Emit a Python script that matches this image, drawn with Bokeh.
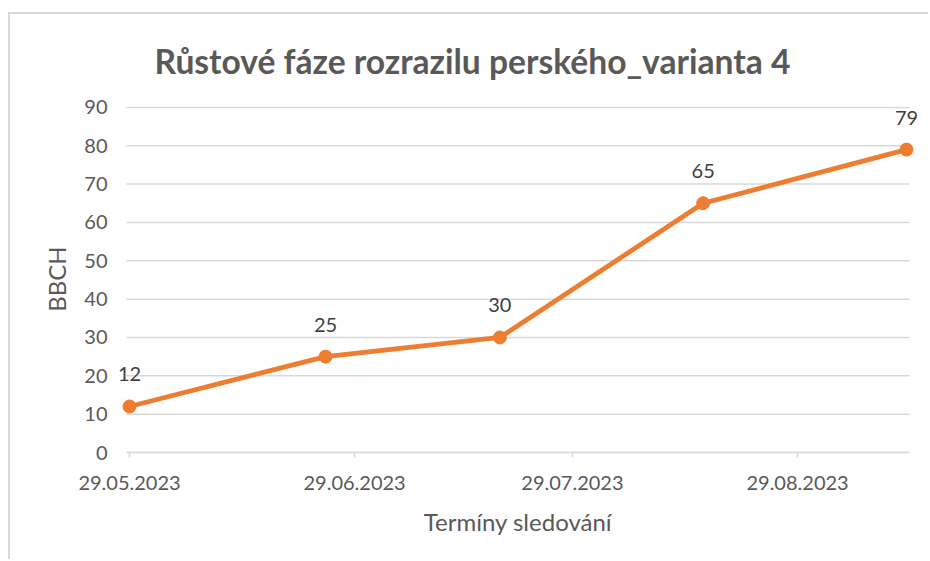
import pandas as pd
from bokeh.plotting import figure
from bokeh.models import (ColumnDataSource, Range1d, FixedTicker, DatetimeTickFormatter,
                          Title, LabelSet)
from bokeh.core.properties import value
from bokeh.embed import file_html
from bokeh.resources import INLINE

# ---- data ----
dates = ["2023-05-29", "2023-06-25", "2023-07-19", "2023-08-16", "2023-09-13"]
bbch = [12, 25, 30, 65, 79]
tick_dates = ["2023-05-29", "2023-06-29", "2023-07-29", "2023-08-29"]
y_ticks = [0, 10, 20, 30, 40, 50, 60, 70, 80, 90]
title_text = "Růstové fáze rozrazilu perského_varianta 4"
x_label = "Termíny sledování"
y_label = "BBCH"

FONT = "Lato"
ORANGE = "#ED7D31"
GRID = "#d9d9d9"
TXT = "#595959"

x = pd.to_datetime(dates)
src = ColumnDataSource(dict(x=x, y=bbch, lab=[str(v) for v in bbch]))

# axis/grid span and a little extra room so end markers are not clipped
pad = pd.Timedelta(hours=10)
extra = pd.Timedelta(hours=33)
g0, g1 = x[0] - pad, x[-1] + pad
bounds = (g0.value // 10**6, g1.value // 10**6)

p = figure(width=920, height=547, x_axis_type="datetime",
           x_range=Range1d(g0 - extra, g1 + extra),
           y_range=Range1d(0, y_ticks[-1] + 0.5),
           output_backend="svg", toolbar_location=None,
           min_border_left=106, min_border_right=11,
           min_border_top=90, min_border_bottom=109)
p.margin = (12, 0, 0, 8)
p.styles = {"border-left": "2px solid #d9d9d9", "border-top": "2px solid #d9d9d9"}
p.outline_line_color = None
p.background_fill_color = "white"
p.border_fill_color = "white"

t = Title(text=title_text, align="left", offset=38, standoff=49,
          text_font=FONT, text_font_size="33.6px", text_font_style="bold",
          text_color=TXT)
p.add_layout(t, "above")

# horizontal grid lines, limited to the axis span
p.xgrid.grid_line_color = None
p.ygrid.grid_line_color = None
gsrc = ColumnDataSource(dict(x0=[g0] * len(y_ticks), x1=[g1] * len(y_ticks), y=y_ticks))
p.segment(x0="x0", x1="x1", y0="y", y1="y", source=gsrc,
          line_color=GRID, line_width=1.5, level="underlay")

# y axis
p.yaxis.ticker = FixedTicker(ticks=y_ticks)
p.yaxis.axis_line_color = None
p.yaxis.major_tick_line_color = None
p.yaxis.major_tick_in = 0
p.yaxis.major_tick_out = 0
p.yaxis.minor_tick_line_color = None
p.yaxis.major_label_standoff = 9
p.yaxis.major_label_text_font = FONT
p.yaxis.major_label_text_font_size = "20px"
p.yaxis.major_label_text_color = TXT
p.yaxis.axis_label = y_label
p.yaxis.axis_label_text_font = FONT
p.yaxis.axis_label_text_font_size = "24px"
p.yaxis.axis_label_text_font_style = "normal"
p.yaxis.axis_label_text_color = TXT
p.yaxis.axis_label_standoff = 10

# x axis
tick_ms = [pd.Timestamp(d).value // 10**6 for d in tick_dates]
p.xaxis.ticker = FixedTicker(ticks=tick_ms)
p.xaxis.bounds = bounds
p.xaxis.formatter = DatetimeTickFormatter(days="%d.%m.%Y", months="%d.%m.%Y")
p.xaxis.axis_line_color = GRID
p.xaxis.axis_line_width = 1.5
p.xaxis.major_tick_line_color = GRID
p.xaxis.major_tick_line_width = 1.5
p.xaxis.major_tick_in = 0
p.xaxis.major_tick_out = 5
p.xaxis.minor_tick_line_color = None
p.xaxis.major_label_standoff = 18
p.xaxis.major_label_text_font = FONT
p.xaxis.major_label_text_font_size = "20px"
p.xaxis.major_label_text_color = TXT
p.xaxis.axis_label = x_label
p.xaxis.axis_label_text_font = FONT
p.xaxis.axis_label_text_font_size = "24px"
p.xaxis.axis_label_text_font_style = "normal"
p.xaxis.axis_label_text_color = TXT
p.xaxis.axis_label_standoff = 14

# series
p.line("x", "y", source=src, line_color=ORANGE, line_width=4.8)
p.scatter("x", "y", source=src, size=13, fill_color=ORANGE, line_color=ORANGE)
labels = LabelSet(x="x", y="y", text="lab", source=src, text_align="center",
                  text_baseline="bottom", y_offset=25, text_font=value(FONT),
                  text_font_size=value("20px"), text_color=value("#404040"))
p.add_layout(labels)

open("out.html", "w").write(file_html(p, INLINE))
